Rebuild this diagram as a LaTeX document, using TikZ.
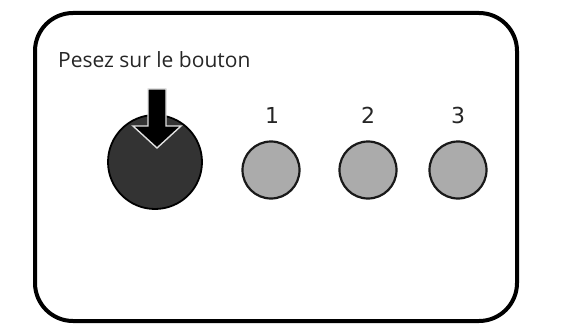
\documentclass[tikz,border=0pt]{standalone}
\usepackage{fontspec}
\setmainfont{Open Sans}
\newfontfamily\digitfont{DejaVu Sans}
\begin{document}
\begin{tikzpicture}[x=1pt,y=-1pt,
  panel/.style={draw=black,line width=4pt,rounded corners=38pt},
  bigbtn/.style={circle,draw=black,line width=1.8pt,fill=black!80,minimum size=94pt,inner sep=0pt},
  smallbtn/.style={circle,draw=black!90,line width=2.2pt,fill=black!33,minimum size=57pt,inner sep=0pt},
  numlabel/.style={font=\digitfont\fontsize{22pt}{22pt}\selectfont,text=black!85,inner sep=0pt},
  caption/.style={font=\fontsize{21pt}{21pt}\selectfont,text=black!85,inner sep=0pt,anchor=base west}]
\useasboundingbox (0,0) rectangle (572,326);
\draw[panel] (35,13) rectangle (517,321);
\node[caption] (cap) at (58,68) {Pesez sur le bouton};
\node[bigbtn] (big) at (155,162) {};
\filldraw[fill=black,draw=black!12,line width=1.4pt,line join=miter]
  (148,89) -- (166,89) -- (166,126) -- (181,126) -- (157,148) -- (133,126) -- (148,126) -- cycle;
\node[smallbtn] (b1) at (271,170) {};
\node[smallbtn] (b2) at (368,170) {};
\node[smallbtn] (b3) at (458,170) {};
\node[numlabel] (n1) at (272,115) {1};
\node[numlabel] (n2) at (368,115) {2};
\node[numlabel] (n3) at (458,115) {3};
\end{tikzpicture}
\end{document}
